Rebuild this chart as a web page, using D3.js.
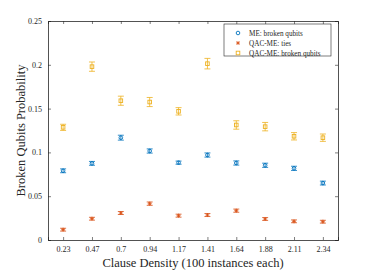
<!DOCTYPE html>
<html>
<head>
<meta charset="utf-8">
<script src="https://cdn.jsdelivr.net/npm/d3@7"></script>
<style>
  body { margin: 0; background: #fff; }
  text { font-family: "Liberation Serif", "DejaVu Serif", serif; }
</style>
</head>
<body>
<svg id="chart" width="374" height="270"></svg>
<script>
// clause densities and their tick labels
var densities = [0.2344, 0.4688, 0.7031, 0.9375, 1.1719, 1.4063, 1.6406, 1.8750, 2.1094, 2.3438];
var densityLabels = ['0.23', '0.47', '0.7', '0.94', '1.17', '1.41', '1.64', '1.88', '2.11', '2.34'];

var meBroken = [0.079, 0.0875, 0.1168, 0.1016, 0.0883, 0.097, 0.0879, 0.0853, 0.0818, 0.065];
var meBrokenErr = [0.0022, 0.0022, 0.0028, 0.0024, 0.0018, 0.0024, 0.0024, 0.0024, 0.0024, 0.0022];

var qacTies = [0.0118, 0.0243, 0.0308, 0.0415, 0.0278, 0.0285, 0.0335, 0.024, 0.0213, 0.0209];
var qacTiesErr = [0.0016, 0.0016, 0.0017, 0.0019, 0.0017, 0.0017, 0.0018, 0.0016, 0.0016, 0.0016];

var qacBroken = [0.1286, 0.1979, 0.159, 0.1575, 0.1469, 0.2013, 0.1313, 0.1294, 0.1184, 0.1168];
var qacBrokenErr = [0.0035, 0.0053, 0.0052, 0.0052, 0.0042, 0.006, 0.0048, 0.0048, 0.0042, 0.0042];

var yTicks = [0, 0.05, 0.1, 0.15, 0.2, 0.25];

var series = [
    {name: 'ME: broken qubits', values: meBroken, err: meBrokenErr, color: '#0072BD', marker: 'circle'},
    {name: 'QAC-ME: ties', values: qacTies, err: qacTiesErr, color: '#D95319', marker: 'star'},
    {name: 'QAC-ME: broken qubits', values: qacBroken, err: qacBrokenErr, color: '#EDB120', marker: 'square'}
];

var margin = {left: 48, right: 36, top: 21, bottom: 30};
var width = 374 - margin.left - margin.right;
var height = 270 - margin.top - margin.bottom;

var svg = d3.select('#chart');
var g = svg.append('g').attr('transform', 'translate(' + margin.left + ',' + margin.top + ')');

var x = d3.scaleLinear().domain([0.1117, 2.4665]).range([0, width]);
var y = d3.scaleLinear().domain([0, 0.25]).range([height, 0]);

var axisColor = '#262626';

// bottom axis with inward ticks
var xAxis = g.append('g').attr('transform', 'translate(0,' + height + ')')
    .call(d3.axisBottom(x).tickValues(densities).tickSize(-3).tickPadding(6)
        .tickFormat(function (d, i) { return densityLabels[i]; }));
var xAxisTop = g.append('g')
    .call(d3.axisTop(x).tickValues(densities).tickSize(-3).tickFormat(''));

var yAxis = g.append('g')
    .call(d3.axisLeft(y).tickValues(yTicks).tickSize(-3).tickPadding(6)
        .tickFormat(function (d) { return d === 0 ? '0' : String(+d.toFixed(2)); }));
var yAxisRight = g.append('g').attr('transform', 'translate(' + width + ',0)')
    .call(d3.axisRight(y).tickValues(yTicks).tickSize(-3).tickFormat(''));

[xAxis, xAxisTop, yAxis, yAxisRight].forEach(function (a) {
    a.select('.domain').attr('stroke', axisColor).attr('stroke-width', 0.8);
    a.selectAll('.tick line').attr('stroke', axisColor).attr('stroke-width', 0.6);
    a.selectAll('.tick text').attr('fill', axisColor).style('font-size', '8px');
});

// axis labels
g.append('text')
    .attr('x', width / 2).attr('y', height + 27)
    .attr('text-anchor', 'middle').attr('fill', axisColor)
    .style('font-size', '12.5px')
    .text('Clause Density (100 instances each)');

g.append('text')
    .attr('transform', 'translate(' + (-23) + ',' + (height / 2) + ') rotate(-90)')
    .attr('text-anchor', 'middle').attr('fill', axisColor)
    .style('font-size', '12.5px')
    .text('Broken Qubits Probability');

var drawMarker = function (sel, type, color) {
    if (type === 'circle') {
        sel.append('circle').attr('r', 1.8).attr('fill', 'none')
            .attr('stroke', color).attr('stroke-width', 0.9);
    } else if (type === 'square') {
        sel.append('rect').attr('x', -1.8).attr('y', -1.8).attr('width', 3.6).attr('height', 3.6)
            .attr('fill', 'none').attr('stroke', color).attr('stroke-width', 0.9);
    } else {
        sel.append('path')
            .attr('d', 'M-2,0L2,0M0,-2L0,2M-1.5,-1.5L1.5,1.5M-1.5,1.5L1.5,-1.5')
            .attr('stroke', color).attr('stroke-width', 0.8);
    }
};

series.forEach(function (s) {
    var pts = g.append('g').selectAll('g.pt')
        .data(s.values.map(function (v, i) { return {x: densities[i], v: v, e: s.err[i]}; }))
        .enter().append('g').attr('class', 'pt');

    pts.append('line')
        .attr('x1', function (d) { return x(d.x); }).attr('x2', function (d) { return x(d.x); })
        .attr('y1', function (d) { return y(d.v - d.e); }).attr('y2', function (d) { return y(d.v + d.e); })
        .attr('stroke', s.color).attr('stroke-width', 0.8);
    [-1, 1].forEach(function (sign) {
        pts.append('line')
            .attr('x1', function (d) { return x(d.x) - 3; }).attr('x2', function (d) { return x(d.x) + 3; })
            .attr('y1', function (d) { return y(d.v + sign * d.e); })
            .attr('y2', function (d) { return y(d.v + sign * d.e); })
            .attr('stroke', s.color).attr('stroke-width', 0.8);
    });

    var marks = pts.append('g')
        .attr('transform', function (d) { return 'translate(' + x(d.x) + ',' + y(d.v) + ')'; });
    drawMarker(marks, s.marker, s.color);
});

// legend
var legend = g.append('g').attr('transform', 'translate(' + (224 - margin.left) + ',' + (24 - margin.top) + ')');
legend.append('rect')
    .attr('width', 107).attr('height', 32)
    .attr('fill', '#fff').attr('stroke', axisColor).attr('stroke-width', 0.6);

series.forEach(function (s, i) {
    var row = legend.append('g').attr('transform', 'translate(0,' + (9 + i * 10) + ')');
    var m = row.append('g').attr('transform', 'translate(14,0)');
    drawMarker(m, s.marker, s.color);
    row.append('text').attr('x', 25).attr('y', 3)
        .attr('fill', axisColor).style('font-size', '7.2px')
        .text(s.name);
});
</script>
</body>
</html>
